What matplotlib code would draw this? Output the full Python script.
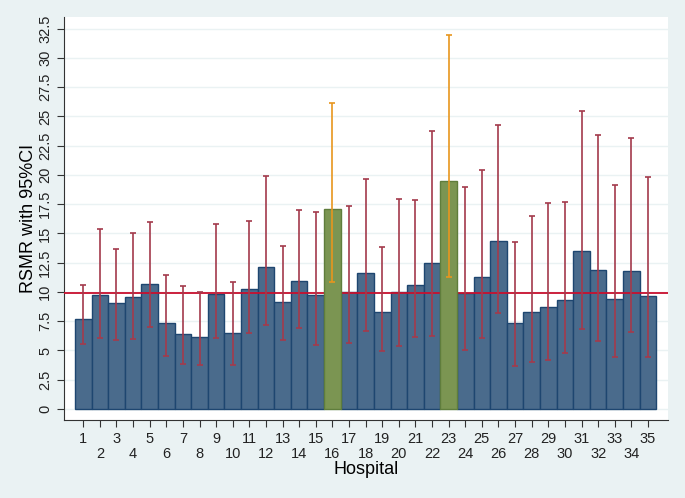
import matplotlib
matplotlib.use('Agg')
import matplotlib.pyplot as plt

plt.rcParams['font.family'] = ['Liberation Sans', 'DejaVu Sans']

# RSMR per hospital with 95% CI
hospitals = list(range(1, 36))
rsmr = [7.70, 9.75, 9.04, 9.58, 10.69, 7.31, 6.40, 6.17, 9.84, 6.51,
        10.27, 12.14, 9.13, 10.98, 9.73, 17.09, 10.01, 11.60, 8.33, 10.01,
        10.61, 12.46, 19.45, 9.93, 11.29, 14.33, 7.34, 8.30, 8.70, 9.33,
        13.54, 11.89, 9.39, 11.80, 9.64]
ci_low = [5.57, 6.06, 5.89, 5.97, 7.02, 4.55, 3.81, 3.73, 6.03, 3.78,
          6.46, 7.22, 5.92, 6.94, 5.46, 10.84, 5.63, 6.68, 4.98, 5.40,
          6.14, 6.20, 11.26, 5.01, 6.03, 8.22, 3.64, 4.04, 4.15, 4.75,
          6.85, 5.78, 4.41, 6.54, 4.47]
ci_high = [10.58, 15.36, 13.65, 15.02, 15.96, 11.46, 10.52, 9.98, 15.81, 10.89,
           16.04, 19.91, 13.91, 16.98, 16.81, 26.17, 17.35, 19.68, 13.82, 17.95,
           17.83, 23.78, 31.94, 18.97, 20.39, 24.23, 14.28, 16.47, 17.60, 17.69,
           25.48, 23.41, 19.14, 23.12, 19.82]
outliers = [16, 23]
overall = 9.9

bg = '#eaf2f3'
fig = plt.figure(figsize=(6.85, 4.98), dpi=100, facecolor=bg)
ax = fig.add_axes([0.0934, 0.1566, 0.8816, 0.8094])
ax.set_facecolor('white')

# blue bars under the reference line, green (outlier) bars on top of it
norm = [h not in outliers for h in hospitals]
ax.bar([h for h, n in zip(hospitals, norm) if n], [v for v, n in zip(rsmr, norm) if n],
       width=1.0, color='#4a6b8c', edgecolor='#1e4670', linewidth=1.0, zorder=2)
ax.bar([h for h, n in zip(hospitals, norm) if not n], [v for v, n in zip(rsmr, norm) if not n],
       width=1.0, color='#7b9552', edgecolor='#5f7d3c', linewidth=1.0, zorder=3.5)

for h, v, lo, hi in zip(hospitals, rsmr, ci_low, ci_high):
    c = '#e8961e' if h in outliers else '#a33a4c'
    ax.errorbar(h, v, yerr=[[v - lo], [hi - v]], fmt='none', ecolor=c,
                elinewidth=1.2, capsize=2.2, capthick=1.2, zorder=4)

ax.axhline(overall, color='#c8102e', linewidth=1.3, zorder=3)

yt = [i * 2.5 for i in range(14)]
ax.set_yticks(yt)
ax.set_yticklabels([('%g' % t) for t in yt], rotation=90, va='center', fontsize=10.5)
ax.set_ylim(-0.94, 33.5)
ax.grid(axis='y', color=bg, linewidth=1.0, zorder=0)

ax.set_xticks(hospitals)
ax.set_xticklabels([str(h) if h % 2 == 1 else '\n' + str(h) for h in hospitals],
                   fontsize=10.5, linespacing=1.15)
ax.set_xlim(-0.16, 36.2)

for s in ['top', 'right']:
    ax.spines[s].set_visible(False)
ax.spines['left'].set_color('#333333')
ax.spines['bottom'].set_color('#333333')
ax.tick_params(axis='both', direction='out', length=5, color='#333333', labelcolor='#222222')

ax.set_xlabel('Hospital', fontsize=13, labelpad=0)
ax.set_ylabel('RSMR with 95%CI', fontsize=13, labelpad=0.5)

fig.savefig('out.png', dpi=100, facecolor=bg)
